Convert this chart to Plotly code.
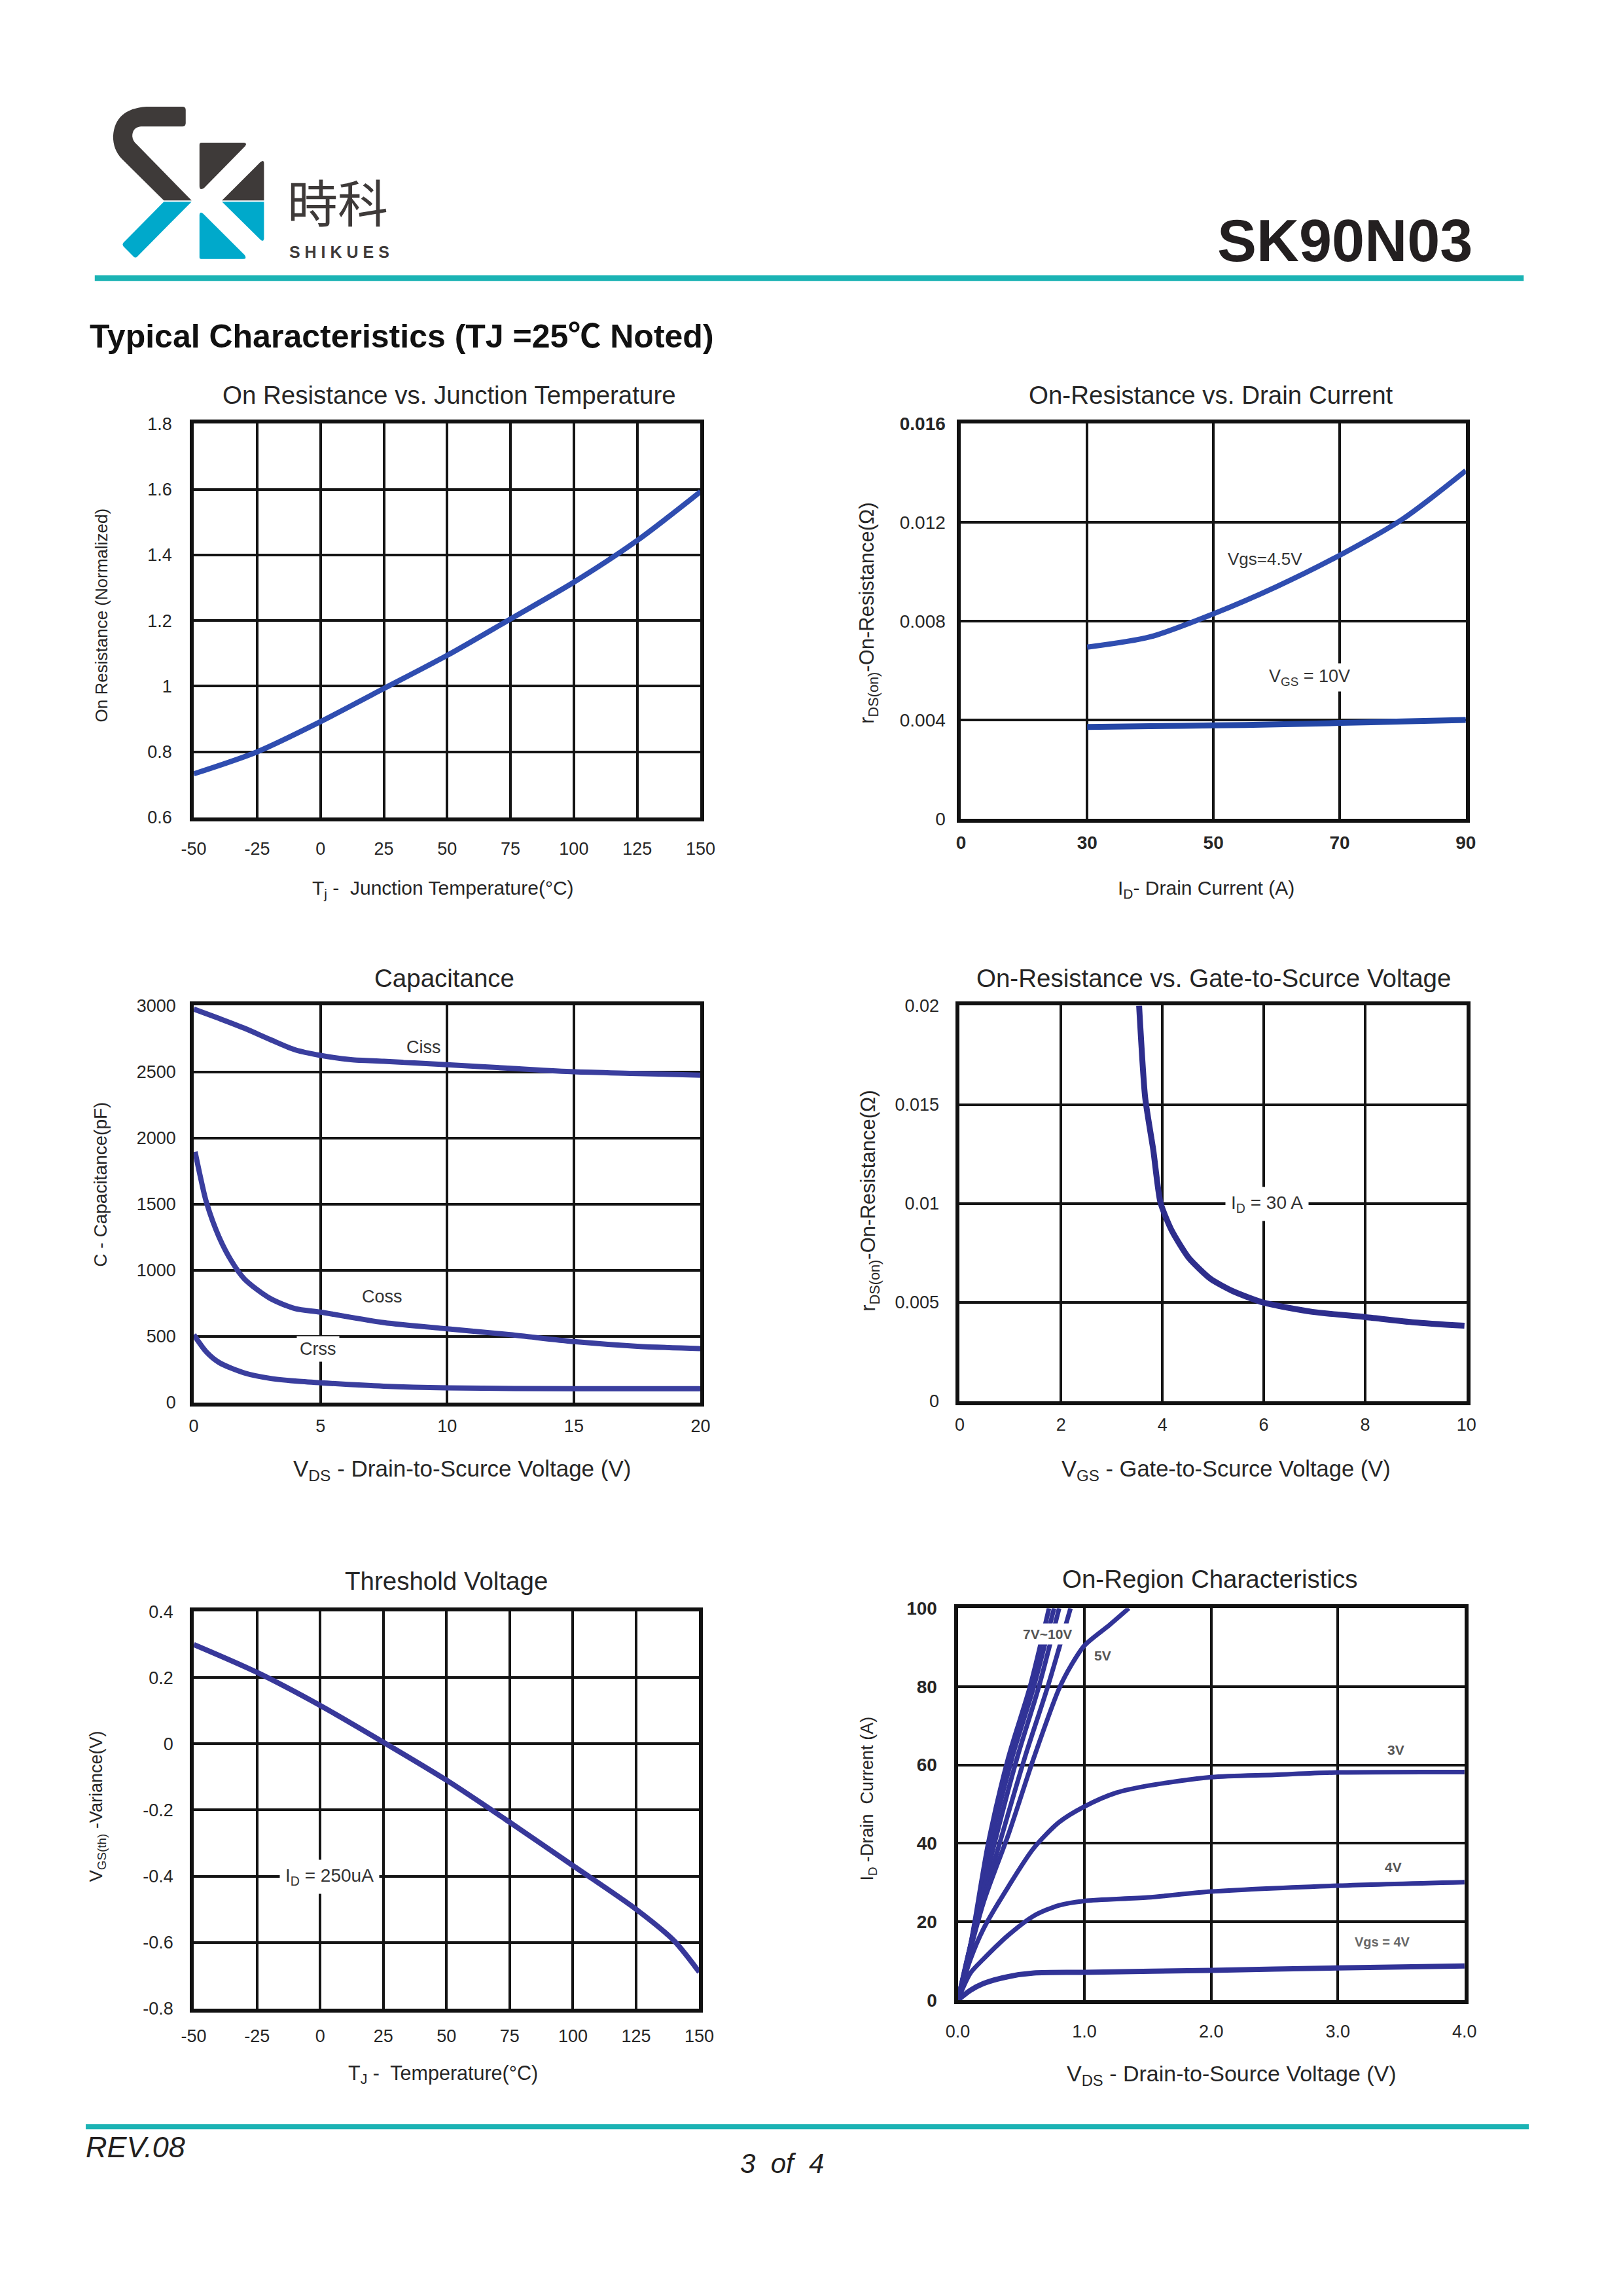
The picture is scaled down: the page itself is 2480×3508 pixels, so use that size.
import plotly.graph_objects as go

W, H = 2480, 3508

# ---- data ----
tj = [-50, -25, 0, 25, 50, 75, 100, 125, 150]
rds_norm = [0.733, 0.80, 0.892, 0.993, 1.094, 1.205, 1.317, 1.444, 1.593]

id_drain = [30, 40, 50, 60, 70, 80, 90]
rds_vgs45 = [0.00695, 0.00737, 0.00830, 0.0094, 0.01067, 0.01214, 0.0141]
rds_vgs10 = [0.00372, 0.00375, 0.00378, 0.00382, 0.00388, 0.00394, 0.0040]
id_ticks = ["0", "30", "50", "70", "90"]

ciss_v = [0, 1, 2, 3, 4, 5, 6.2, 7.5, 10, 12.5, 15, 17.5, 20]
ciss = [2974, 2903, 2829, 2745, 2666, 2624, 2592, 2579, 2553, 2526, 2500, 2487, 2474]
coss_v = [0.05, 0.3, 0.5, 1, 1.5, 2, 3, 4, 5, 7.5, 10, 12.5, 15, 17.5, 20]
coss = [1895, 1671, 1513, 1250, 1066, 934, 789, 711, 684, 605, 558, 513, 461, 426, 408]
crss_v = [0, 0.5, 1, 2, 3, 4, 5, 7.5, 10, 15, 20]
crss = [513, 382, 303, 224, 184, 163, 150, 124, 111, 105, 105]

vgs = [3.54, 3.66, 3.82, 3.96, 4.18, 4.52, 4.95, 5.38, 5.98, 6.96, 7.99, 8.97, 9.96]
rds_gate = [0.020, 0.01534, 0.0127, 0.01006, 0.00865, 0.00725, 0.00619, 0.00558,
            0.0050, 0.00452, 0.00426, 0.00399, 0.00382]

tj_th = [-50, -25, 0, 25, 50, 75, 100, 125, 140, 150]
vth_var = [0.30, 0.216, 0.116, 0.005, -0.11, -0.237, -0.368, -0.50, -0.595, -0.69]

# on-region curves: (vds, id)
vds_10v = [0, 0.1, 0.24, 0.4, 0.57, 0.72]
vds_9v = [0, 0.1, 0.26, 0.43, 0.60, 0.76]
vds_8v = [0, 0.1, 0.29, 0.47, 0.64, 0.80]
vds_7v = [0, 0.1, 0.33, 0.53, 0.71, 0.89]
id_steep = [0, 14, 40, 62, 80, 100]
vds_5v = [0, 0.2, 0.4, 0.6, 0.8, 0.9, 1.0, 1.2, 1.35]
id_5v = [0, 24.6, 42.3, 61.8, 79.5, 85.7, 90.5, 95.8, 100]
vds_3v = [0, 0.1, 0.2, 0.4, 0.6, 0.8, 1.0, 1.25, 1.5, 2.0, 2.5, 3.0, 4.0]
id_3v = [0, 10.4, 18, 29, 38.8, 45.4, 49.4, 52.9, 54.7, 56.9, 57.5, 58.1, 58.2]
vds_4v = [0, 0.1, 0.2, 0.4, 0.6, 0.8, 1.0, 1.5, 2.0, 3.0, 4.0]
id_4v = [0, 6.9, 10.4, 16.6, 21.5, 24.2, 25.3, 26.2, 27.7, 29.2, 30.1]
vds_low = [0, 0.1, 0.2, 0.4, 0.6, 1.0, 2.0, 3.0, 4.0]
id_low = [0, 2.5, 4.2, 6.0, 6.9, 7.1, 7.6, 8.2, 8.7]

FONT = "Arial, Liberation Sans, Noto Sans CJK SC, sans-serif"
TXT = "#262626"
BLUE1 = "#2f4db0"
BLUE2 = "#313397"


def px(x):
    return x / W


def py(y):
    return 1 - y / H


# plot boxes in page pixels: left, right, top, bottom
boxes = {
    1: (281, 1069, 638, 1245),
    2: (1474, 2259, 638, 1247),
    3: (281, 1069, 1535, 2147),
    4: (1472, 2260, 1535, 2145),
    5: (281, 1067, 2469, 3081),
    6: (1469, 2257, 2464, 3068),
}


def axis(n, letter, rng, vals, text, standoff, size=27, bold=False):
    l, r, t, b = boxes[n]
    dom = [px(l), px(r)] if letter == "x" else [py(b), py(t)]
    if bold:
        text = ["<b>%s</b>" % s for s in text]
    return dict(
        domain=dom, range=rng, tickvals=vals, ticktext=text,
        anchor=("y" if letter == "x" else "x") + ("" if n == 1 else str(n)),
        showgrid=True, gridcolor="#141414", gridwidth=4,
        showline=True, mirror=True, linecolor="#111111", linewidth=6,
        zeroline=False, ticks="", ticklabelstandoff=standoff,
        tickfont=dict(family=FONT, size=size, color=TXT), fixedrange=True,
    )


fig = go.Figure()


def curve(n, x, y, color, width=8, smooth=0.8):
    suffix = "" if n == 1 else str(n)
    fig.add_trace(go.Scatter(
        x=x, y=y, mode="lines", xaxis="x" + suffix, yaxis="y" + suffix,
        line=dict(color=color, width=width, shape="spline", smoothing=smooth),
        showlegend=False, hoverinfo="skip"))


curve(1, tj, rds_norm, BLUE1)
curve(2, id_drain, rds_vgs45, BLUE1)
curve(2, id_drain, rds_vgs10, "#2346a6", width=9)
curve(3, ciss_v, ciss, "#3a3e9e")
curve(3, coss_v, coss, "#3a3e9e")
curve(3, crss_v, crss, "#3a3e9e")
curve(4, vgs, rds_gate, "#2d2d8c", width=9, smooth=0.6)
curve(5, tj_th, vth_var, "#38389a")
for xs in (vds_10v, vds_9v, vds_8v, vds_7v):
    curve(6, xs, id_steep, BLUE2, width=7)
curve(6, vds_5v, id_5v, BLUE2, width=7)
curve(6, vds_3v, id_3v, BLUE2, width=7)
curve(6, vds_4v, id_4v, BLUE2, width=7)
curve(6, vds_low, id_low, BLUE2, width=8)

layout_axes = {
    "xaxis": axis(1, "x", [-50, 150], list(range(-50, 151, 25)),
                  [str(v) for v in range(-50, 151, 25)], 19),
    "yaxis": axis(1, "y", [0.6, 1.8], [0.6, 0.8, 1.0, 1.2, 1.4, 1.6, 1.8],
                  ["0.6", "0.8", "1", "1.2", "1.4", "1.6", "1.8"], 22),
    "xaxis2": axis(2, "x", [10, 90], [10, 30, 50, 70, 90], id_ticks, 6, size=28, bold=True),
    "yaxis2": axis(2, "y", [0, 0.016], [0, 0.004, 0.008, 0.012, 0.016],
                   ["0", "0.004", "0.008", "0.012", "<b>0.016</b>"], 12, size=28),
    "xaxis3": axis(3, "x", [0, 20], [0, 5, 10, 15, 20], ["0", "5", "10", "15", "20"], 7),
    "yaxis3": axis(3, "y", [0, 3000], list(range(0, 3001, 500)),
                   [str(v) for v in range(0, 3001, 500)], 16),
    "xaxis4": axis(4, "x", [0, 10], [0, 2, 4, 6, 8, 10], ["0", "2", "4", "6", "8", "10"], 7),
    "yaxis4": axis(4, "y", [0, 0.02], [0, 0.005, 0.01, 0.015, 0.02],
                   ["0", "0.005", "0.01", "0.015", "0.02"], 20),
    "xaxis5": axis(5, "x", [-50, 150], list(range(-50, 151, 25)),
                   [str(v) for v in range(-50, 151, 25)], 13),
    "yaxis5": axis(5, "y", [-0.8, 0.4], [-0.8, -0.6, -0.4, -0.2, 0, 0.2, 0.4],
                   ["-0.8", "-0.6", "-0.4", "-0.2", "0", "0.2", "0.4"], 20),
    "xaxis6": axis(6, "x", [0, 4], [0, 1, 2, 3, 4], ["0.0", "1.0", "2.0", "3.0", "4.0"], 19),
    "yaxis6": axis(6, "y", [0, 100], [0, 20, 40, 60, 80, 100],
                   ["0", "20", "40", "60", "80", "100"], 20, size=28, bold=True),
}

notes = []


def note(text, x, y, size, angle=0, xanchor="center", color=TXT, **kw):
    notes.append(dict(text=text, x=px(x), y=py(y), xref="paper", yref="paper",
                      xanchor=xanchor, yanchor="middle", textangle=angle, showarrow=False,
                      font=dict(family=FONT, size=size, color=color), **kw))


def label(n, text, x, y, size, bg=None, pad=4, color="#333333"):
    suffix = "" if n == 1 else str(n)
    d = dict(text=text, x=x, y=y, xref="x" + suffix, yref="y" + suffix, showarrow=False,
             font=dict(family=FONT, size=size, color=color))
    if bg:
        d.update(bgcolor=bg, borderpad=pad)
    notes.append(d)


# header / footer text
note("<b>SK90N03</b>", 2271, 356, 90, xanchor="right", color="#231f20")
note("<b>Typical Characteristics (TJ =25℃ Noted)</b>", 117, 503, 50, xanchor="left",
     color="#111111")
note("時科", 505, 301, 77, color="#3e3a39")
note("<b>S H I K U E S</b>", 507, 373, 25, color="#3e3a39")
note("<i>REV.08</i>", 111, 3295, 45, xanchor="left", color="#231f20")
note("<i>3\u00a0 of\u00a0 4</i>", 1196, 3320, 42, color="#231f20")

# chart titles
note("On Resistance vs. Junction Temperature", 678, 594, 38.5)
note("On-Resistance vs. Drain Current", 1863, 594, 38.5)
note("Capacitance", 671, 1493, 38.5)
note("On-Resistance vs. Gate-to-Scurce Voltage", 1867, 1493, 38.5)
note("Threshold Voltage", 674, 2422, 38.5)
note("On-Region Characteristics", 1861, 2419, 38.5)

# axis titles
note("T<sub>j</sub> -  Junction Temperature(°C)", 669, 1355, 30)
note("On Resistance (Normalized)", 137, 933, 26, angle=-90)
note("I<sub>D</sub>- Drain Current (A)", 1855, 1355, 30)
note("r<sub>DS(on)</sub>-On-Resistance(Ω)", 1330, 930, 31, angle=-90)
note("V<sub>DS</sub> - Drain-to-Scurce Voltage (V)", 698, 2251, 35)
note("C - Capacitance(pF)", 136, 1811, 28, angle=-90)
note("V<sub>GS</sub> - Gate-to-Scurce Voltage (V)", 1886, 2251, 34.5)
note("r<sub>DS(on)</sub>-On-Resistance(Ω)", 1332, 1836, 31, angle=-90)
note("T<sub>J</sub> -  Temperature(°C)", 669, 3183, 30.5)
note("V<sub>GS(th)</sub> -Variance(V)", 131, 2769, 27, angle=-90)
note("V<sub>DS</sub> - Drain-to-Source Voltage (V)", 1895, 3184, 34)
note("I<sub>D</sub> -Drain  Current (A)", 1330, 2757, 27, angle=-90)

# curve labels
label(2, "Vgs=4.5V", 58.2, 0.01053, 26)
label(2, "V<sub>GS</sub> = 10V", 65.2, 0.00573, 27, bg="white")
label(3, "Ciss", 9.08, 2687, 27, bg="white")
label(3, "Coss", 7.43, 801, 27)
label(3, "Crss", 4.91, 405, 27, bg="white")
label(4, "I<sub>D</sub> = 30 A", 6.07, 0.00997, 28, bg="white", pad=8)
label(5, "I<sub>D</sub> = 250uA", 3.6, -0.401, 28, bg="white", pad=8)
label(6, "<b>7V~10V</b>", 0.708, 93.4, 21, bg="white", color="#555555")
label(6, "<b>5V</b>", 1.146, 88, 21, color="#555555")
label(6, "<b>3V</b>", 3.46, 63.8, 21, color="#555555")
label(6, "<b>4V</b>", 3.44, 33.9, 21, color="#555555")
label(6, "<b>Vgs = 4V</b>", 3.35, 14.8, 20, color="#666666")


# logo, drawn in a local frame (3x zoom units) anchored at a page pixel
LOGO_X, LOGO_Y, LOGO_S = 129, 134, 1.02 / 3


def logo_path(cmds):
    out = []
    for c in cmds:
        pts = []
        for i in range(1, len(c), 2):
            X = LOGO_X + c[i] * LOGO_S
            Y = LOGO_Y + c[i + 1] * LOGO_S
            pts.append("%.5f,%.5f" % (px(X), py(Y)))
        out.append(c[0] + " ".join(pts))
    return " ".join(out) + " Z"


DARK = "#3e3a39"
CYAN = "#00a9cb"
logo = [
    (DARK, [("M", 230, 45), ("L", 395, 45), ("Q", 410, 45, 410, 60), ("L", 410, 120),
            ("Q", 410, 135, 395, 135), ("L", 205, 135), ("Q", 165, 140, 166, 180),
            ("Q", 168, 200, 185, 215), ("L", 437, 470), ("L", 310, 470), ("L", 118, 282),
            ("Q", 78, 240, 78, 180), ("Q", 85, 55, 230, 45)]),
    (CYAN, [("M", 310, 476), ("L", 437, 476), ("L", 188, 725), ("Q", 180, 733, 172, 725),
            ("L", 126, 679), ("Q", 118, 670, 126, 661)]),
    (DARK, [("M", 482, 208), ("L", 676, 208), ("Q", 692, 210, 682, 224), ("L", 494, 414),
            ("Q", 473, 428, 473, 404), ("L", 473, 218), ("Q", 473, 208, 482, 208)]),
    (DARK, [("M", 576, 470), ("L", 752, 296), ("Q", 768, 284, 768, 302), ("L", 768, 470)]),
    (CYAN, [("M", 576, 476), ("L", 768, 476), ("L", 768, 642), ("Q", 766, 660, 752, 648)]),
    (CYAN, [("M", 473, 536), ("Q", 475, 518, 490, 530), ("L", 680, 718),
            ("Q", 692, 736, 672, 736), ("L", 481, 736), ("Q", 473, 736, 473, 727)]),
]

shapes = []
for color, cmds in logo:
    shapes.append(dict(type="path", xref="paper", yref="paper", path=logo_path(cmds),
                       fillcolor=color, line=dict(width=0), layer="above"))

TEAL = "#1bb3b4"
for x0, x1, y0, y1 in [(127, 2349, 409, 418), (113, 2357, 3259, 3267)]:
    shapes.append(dict(type="rect", xref="paper", yref="paper", x0=px(x0), x1=px(x1),
                       y0=py(y1), y1=py(y0), fillcolor=TEAL, line=dict(width=0)))

fig.update_layout(
    width=W, height=H, autosize=False,
    margin=dict(l=0, r=0, t=0, b=0, pad=0),
    paper_bgcolor="white", plot_bgcolor="white",
    showlegend=False, annotations=notes, shapes=shapes,
    **layout_axes,
)

fig.write_html("out.html", config={"displayModeBar": False, "staticPlot": True},
               post_script="document.body.style.margin='0';")
